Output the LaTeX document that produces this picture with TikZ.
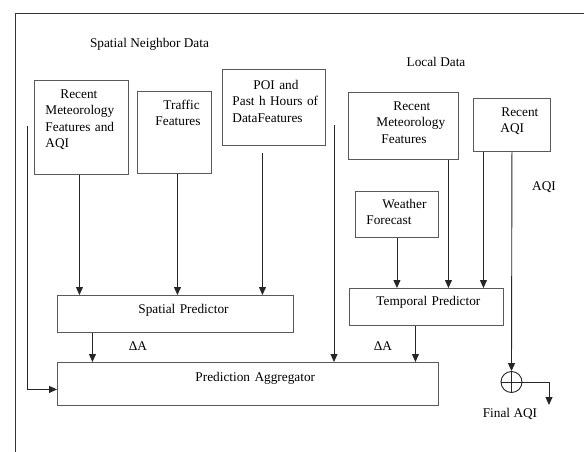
\documentclass[tikz,border=0pt]{standalone}
\usepackage{fontspec}
\setmainfont{Liberation Serif}
\usepackage{tikz}
\usetikzlibrary{arrows.meta}
\tikzset{
  dbox/.style n args={3}{draw=black!65, line width=0.9pt, anchor=north west, align=left, inner xsep=8pt, inner ysep=0pt, text width=#1, text height=#2, text depth=#3},
  conn/.style={-{Triangle[width=7pt,length=8pt]}, line width=0.9pt, black!85},
  lbl/.style={inner sep=0pt},
}

\begin{document}
\begin{tikzpicture}[
    x=1pt, y=-1pt,
    font=\fontsize{13.3}{16.3}\selectfont,
    somador/.style={circle, draw=black!85, line width=0.9pt, minimum size=21pt, inner sep=0pt,
      path picture={\draw[line width=0.9pt] (path picture bounding box.north) -- (path picture bounding box.south)
        (path picture bounding box.west) -- (path picture bounding box.east);}},
  ]
  \useasboundingbox (0,0) rectangle (584,452);
  \draw[black!80, line width=0.8pt] (15,452) |- (584,13);

  \node[lbl] (tSpat) at (149.5,44) {Spatial Neighbor Data};
  \node[lbl] (tLoc) at (436,62) {Local Data};

  % spatial neighbor data
  \node[dbox={78pt}{18pt}{76pt}] (s1) at (34,80) {\hspace*{18pt}Recent\\\hspace*{3pt}Meteorology\\\hspace*{3pt}Features and\\\hspace*{3pt}AQI};
  \node[dbox={58pt}{18pt}{64pt}] (s2) at (137,91) {\hspace*{18pt}Traffic\\\hspace*{10pt}Features};
  \node[dbox={97pt}{20pt}{56pt}, inner xsep=3pt] (s3) at (222,69) {\hspace*{28pt}POI and\\\hspace*{7pt}\mbox{Past h Hours of}\\\hspace*{7pt}DataFeatures};

  % local data
  \node[dbox={94pt}{18pt}{49pt}] (l1) at (348,92) {\hspace*{37pt}Recent\\\hspace*{20pt}Meteorology\\\hspace*{25pt}Features};
  \node[dbox={61pt}{18pt}{35pt}] (l2) at (473,98) {\hspace*{20pt}Recent\\\hspace*{19pt}AQI};
  \node[dbox={67pt}{17pt}{29pt}] (wf) at (355,191) {\hspace*{19pt}Weather\\\hspace*{3pt}Forecast};
  \node[lbl] (tAqi) at (544,187) {AQI};

  % predictors
  \node[dbox={220pt}{18pt}{19pt}] (ps) at (57,295) {\hspace*{73pt}Spatial Predictor};
  \node[dbox={138pt}{17pt}{20pt}] (pt) at (349,288) {\hspace*{19pt}Temporal Predictor};
  \node[dbox={365pt}{19pt}{24pt}] (pa) at (57,362) {\hspace*{130pt}Prediction Aggregator};
  \node[somador] (sum) at (511.5,382) {};
  \node[lbl] (tFin) at (510,414) {Final AQI};
  \node[lbl] (dA1) at (138,346) {ΔA};
  \node[lbl] (dA2) at (383,346) {ΔA};

  \coordinate (a1) at ([xshift=-2pt]s1.south);
  \coordinate (a2) at ([xshift=3pt]s2.south);
  \coordinate (a3) at ([xshift=-11.5pt,yshift=-7pt]s3.south);
  \coordinate (a4) at (wf.south);
  \coordinate (a5) at ([xshift=45pt]l1.south);
  \coordinate (a6) at ([xshift=-28.5pt]l2.south);
  \coordinate (a7) at ([xshift=-83pt]ps.south);
  \coordinate (a8) at ([xshift=-11pt]pt.south);
  \coordinate (m0) at (27,126);
  \coordinate (p0) at (334,125);
  \coordinate (fin) at (549,405);

  \draw[conn] (a1) -- (a1 |- ps.north);
  \draw[conn] (a2) -- (a2 |- ps.north);
  \draw[conn] (a3) -- (a3 |- ps.north);
  \draw[conn] (a4) -- (a4 |- pt.north);
  \draw[conn] (a5) -- (a5 |- pt.north);
  \draw[conn] (a6) -- (a6 |- pt.north);
  \draw[conn] (l2.south) -- (sum.north);
  \draw[conn] (a7) -- (a7 |- pa.north);
  \draw[conn] (a8) -- (a8 |- pa.north);
  \draw[conn] (p0) -- (p0 |- pa.north);
  \draw[conn] (m0) |- ([yshift=-5.5pt]pa.west);
  \draw[conn] (sum.east) -| (fin);
\end{tikzpicture}
\end{document}
